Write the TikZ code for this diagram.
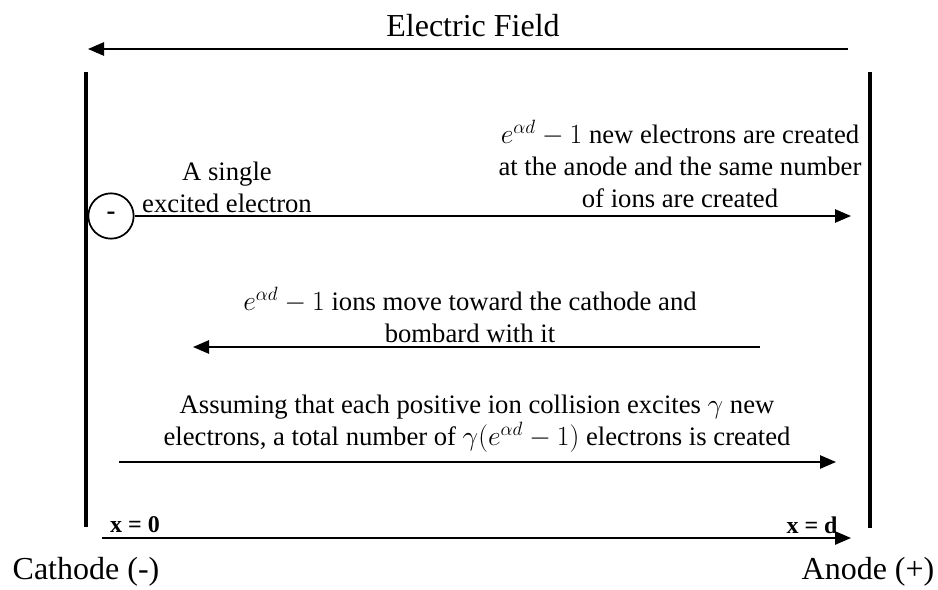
\documentclass[tikz,border=0pt]{standalone}
\usepackage{fontspec}
\setmainfont{Liberation Serif}
\usetikzlibrary{arrows.meta,positioning}

\begin{document}
\begin{tikzpicture}[
 x=0.75pt,y=-0.75pt,
 every node/.style={font=\fontsize{20}{24}\selectfont},
 txt/.style={align=center,inner sep=0pt},
 lbl/.style={font=\fontsize{24}{28}\selectfont,inner sep=0pt},
 xlbl/.style={font=\fontsize{18}{20}\selectfont\bfseries,inner sep=0pt},
 plate/.style={line width=3.2pt},
 arr/.style={-{Triangle[length=12pt,width=10pt]},line width=1.2pt}
]
\useasboundingbox (0,0) rectangle (938,589);
% electrodes
\coordinate (cattop) at (86,72);
\coordinate (catbot) at (86,527);
\coordinate (anotop) at (870,72);
\coordinate (anobot) at (870,528);
\draw[plate] (cattop)--(catbot);
\draw[plate] (anotop)--(anobot);
% field
\node[lbl] (field) at (473,26) {Electric Field};
\coordinate (fieldR) at (848,49);
\coordinate (fieldL) at (88,49);
\draw[arr] (fieldR)--(fieldL);
% electron
\node[draw,circle,line width=1.3pt,minimum size=34pt,inner sep=0pt] (elec) at (111,216) {\bfseries -};
\node[txt] (single) at (227,187) {A single\\excited electron};
\node[txt] (created) at (680,164) {$e^{\alpha d}-1$ new electrons are created\\at the anode and the same number\\of ions are created};
\coordinate (hitA) at (851,216);
\draw[arr] (elec.east)--(hitA);
% ions
\node[txt] (ions) at (470,315) {$e^{\alpha d}-1$ ions move toward the cathode and\\bombard with it};
\coordinate (ionR) at (760,347);
\coordinate (ionL) at (193,347);
\draw[arr] (ionR)--(ionL);
% secondary electrons
\node[txt] (gamma) at (477,424) {Assuming that each positive ion collision excites $\gamma$ new\\electrons, a total number of $\gamma(e^{\alpha d}-1)$ electrons is created};
\coordinate (secL) at (119,462);
\coordinate (secR) at (836,462);
\draw[arr] (secL)--(secR);
% axis
\coordinate (axL) at (102,538);
\coordinate (axR) at (851,538);
\draw[arr] (axL)--(axR);
\node[xlbl] (x0) at (135,525) {x = 0};
\node[xlbl] (xd) at (812,525) {x = d};
\node[lbl] (cathode) at (86,572) {Cathode (-)};
\node[lbl] (anode) at (868,572) {Anode (+)};
\end{tikzpicture}
\end{document}
